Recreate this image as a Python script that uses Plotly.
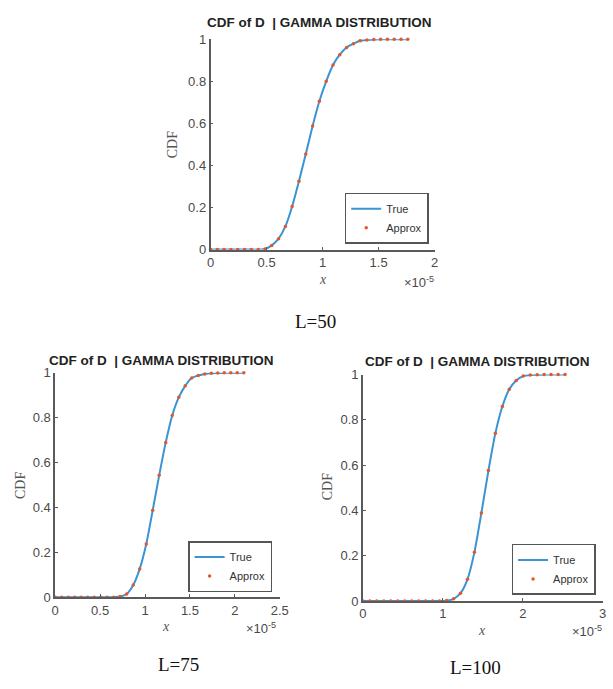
import plotly.graph_objects as go

W, H = 613, 689

# ---- data (x in units of 1e-5) ----
x_L50 = [0, 0.061, 0.121, 0.182, 0.243, 0.304, 0.364, 0.425, 0.486, 0.546,
         0.607, 0.668, 0.728, 0.789, 0.850, 0.911, 0.971, 1.032, 1.093, 1.153,
         1.214, 1.275, 1.335, 1.396, 1.457, 1.518, 1.578, 1.639, 1.700, 1.760]
cdf_L50 = [0, 0, 0, 0, 0, 0, 0, 0, 0.003, 0.02,
           0.052, 0.11, 0.205, 0.325, 0.455, 0.588, 0.705, 0.80, 0.878, 0.927,
           0.961, 0.979, 0.993, 0.997, 0.999, 1, 1, 1, 1, 1]

x_L75 = [0, 0.072, 0.145, 0.217, 0.290, 0.362, 0.434, 0.507, 0.579, 0.652,
         0.724, 0.796, 0.869, 0.941, 1.014, 1.086, 1.158, 1.231, 1.303, 1.376,
         1.448, 1.520, 1.593, 1.665, 1.738, 1.810, 1.882, 1.955, 2.027, 2.100]
cdf_L75 = [0, 0, 0, 0, 0, 0, 0, 0, 0, 0,
           0.003, 0.014, 0.054, 0.126, 0.237, 0.388, 0.543, 0.69, 0.81, 0.891,
           0.942, 0.977, 0.988, 0.995, 0.998, 0.999, 1, 1, 1, 1]

x_L100 = [0, 0.087, 0.174, 0.262, 0.349, 0.436, 0.523, 0.610, 0.698, 0.785,
          0.872, 0.959, 1.046, 1.134, 1.221, 1.308, 1.395, 1.482, 1.570, 1.657,
          1.744, 1.831, 1.918, 2.006, 2.093, 2.180, 2.267, 2.354, 2.442, 2.529]
cdf_L100 = [0, 0, 0, 0, 0, 0, 0, 0, 0, 0,
            0, 0, 0.002, 0.01, 0.035, 0.096, 0.216, 0.389, 0.576, 0.741,
            0.859, 0.935, 0.974, 0.993, 0.998, 0.999, 1, 1, 1, 1]

x_max = [2, 2.5, 3]
x_ticks = [[0, 0.5, 1, 1.5, 2], [0, 0.5, 1, 1.5, 2, 2.5], [0, 1, 2, 3]]
y_ticks = [0, 0.2, 0.4, 0.6, 0.8, 1]
panel_labels = ["L=50", "L=75", "L=100"]
title_text = "CDF of D  | GAMMA DISTRIBUTION"

LINE_C = "#3a93d3"
DOT_C = "#e2582c"
AX_C = "#5a5a5a"
TICK_C = "#4a4a4a"
SANS = "Liberation Sans, Arial, sans-serif"
SERIF = "Liberation Serif, Times New Roman, serif"

# panel geometry in pixels: (left, right, top, bottom)
boxes = [(211, 440, 33, 248), (52.3, 281.7, 374, 603.3), (366.7, 611.7, 375.7, 607.3)]
legend_centers = [(391, 216), (231, 572), (561.5, 575)]
title_pos = [(322, 16), (161, 361), (484, 362)]
ylab_pos = [(173, 141), (17, 489), (330, 491)]
xlab_pos = [(326, 279), (166, 633), (488, 637)]
exp_pos = [(424, 281), (263, 635), (596, 638)]
L_pos = [(318, 322), (178, 672), (482, 675)]

datasets = [(x_L50, cdf_L50), (x_L75, cdf_L75), (x_L100, cdf_L100)]

fig = go.Figure()
annotations = []
layout = dict(width=W, height=H, margin=dict(l=0, r=0, t=0, b=0),
              paper_bgcolor="white", plot_bgcolor="white", showlegend=True)


def ann(px, py, text, font, **kw):
    d = dict(x=px / W, y=1 - py / H, xref="paper", yref="paper", text=text,
             showarrow=False, xanchor="center", yanchor="middle", font=font)
    d.update(kw)
    return d


for i, ((xs, ys), (l, r, t, b)) in enumerate(zip(datasets, boxes)):
    n = i + 1
    xa = "x" if n == 1 else f"x{n}"
    ya = "y" if n == 1 else f"y{n}"
    lg = "legend" if n == 1 else f"legend{n}"
    fig.add_trace(go.Scatter(x=xs, y=ys, mode="lines", name="True",
                             line=dict(color=LINE_C, width=2, shape="spline", smoothing=0.6),
                             xaxis=xa, yaxis=ya, legend=lg, cliponaxis=False))
    fig.add_trace(go.Scatter(x=xs, y=ys, mode="markers", name="Approx",
                             marker=dict(color=DOT_C, size=3.5),
                             xaxis=xa, yaxis=ya, legend=lg, cliponaxis=False))
    xkey = "xaxis" if n == 1 else f"xaxis{n}"
    ykey = "yaxis" if n == 1 else f"yaxis{n}"
    layout[xkey] = dict(domain=[l / W, r / W], anchor=ya, range=[0, x_max[i]],
                        tickvals=x_ticks[i], ticktext=[f"{v:g}" for v in x_ticks[i]],
                        showgrid=False, zeroline=False, showline=True,
                        linecolor=AX_C, linewidth=1.5, ticks="inside", ticklen=3,
                        tickcolor=AX_C, tickfont=dict(family=SANS, size=13, color=TICK_C),
                        fixedrange=True)
    layout[ykey] = dict(domain=[1 - b / H, 1 - t / H], anchor=xa, range=[0, 1],
                        tickvals=y_ticks, ticktext=[f"{v:g}" for v in y_ticks],
                        showgrid=False, zeroline=False, showline=True,
                        linecolor=AX_C, linewidth=1.5, ticks="inside", ticklen=3,
                        tickcolor=AX_C, tickfont=dict(family=SANS, size=13, color=TICK_C),
                        fixedrange=True)
    lx, ly = legend_centers[i]
    layout[lg] = dict(x=lx / W, y=1 - ly / H, xanchor="center", yanchor="middle",
                      bgcolor="white", bordercolor="#555555", borderwidth=1.5,
                      font=dict(family=SANS, size=11, color="#333333"),
                      itemwidth=30, tracegroupgap=0)

    tx, ty = title_pos[i]
    annotations.append(ann(tx, ty, f"<b>{title_text}</b>",
                           dict(family=SANS, size=13.5, color="#222222")))
    yx, yy = ylab_pos[i]
    annotations.append(ann(yx, yy, "CDF", dict(family=SERIF, size=14, color="#555555"),
                           textangle=-90))
    xx, xy = xlab_pos[i]
    annotations.append(ann(xx, xy, "<i>x</i>", dict(family=SERIF, size=14, color="#555555")))
    ex, ey = exp_pos[i]
    annotations.append(ann(ex, ey, "×10<sup>-5</sup>", dict(family=SANS, size=13, color=TICK_C)))
    Lx, Ly = L_pos[i]
    annotations.append(ann(Lx, Ly, panel_labels[i], dict(family=SERIF, size=19, color="#111111")))

layout["annotations"] = annotations
fig.update_layout(**layout)
fig.write_html("out.html")
